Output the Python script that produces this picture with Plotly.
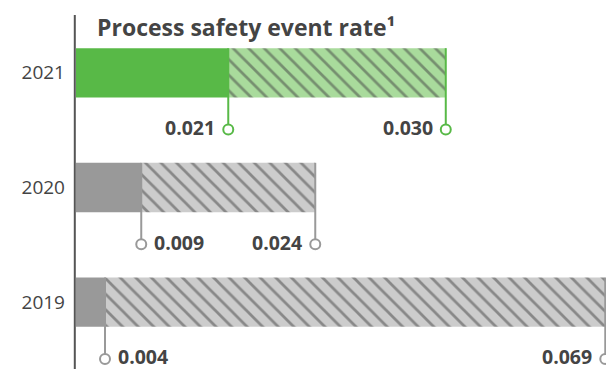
import plotly.graph_objects as go

years = ["2019", "2020", "2021"]
tier_solid = [0.004, 0.009, 0.021]
tier_hatch = [0.069, 0.024, 0.030]

# label placement per marker: side of the circle the number sits on
solid_side = ["right", "right", "left"]
hatch_side = ["left", "left", "left"]

GREEN = "#58b947"
GREEN_LIGHT = "#a9db9c"
GREY = "#999999"
GREY_LIGHT = "#cccccc"
TEXT = "#444444"
FONT = "Open Sans"

pos = list(range(len(years)))
solid_col = [GREY, GREY, GREEN]
light_col = [GREY_LIGHT, GREY_LIGHT, GREEN_LIGHT]
stripe_col = ["#8a8a8a", "#8a8a8a", "#4dab3c"]

bar_w = 0.43
drop = -0.495

W, H = 606, 369
LEFT = 76

fig = go.Figure()
fig.add_trace(go.Bar(
    y=pos, x=tier_solid, orientation="h", width=bar_w,
    marker=dict(color=solid_col, line=dict(width=0)),
    showlegend=False, hoverinfo="skip",
))
fig.add_trace(go.Bar(
    y=pos, x=tier_hatch, orientation="h", width=bar_w,
    base=tier_solid,
    marker=dict(
        color=light_col, line=dict(width=0),
        pattern=dict(shape="\\", fgcolor=stripe_col,
                     size=11, solidity=0.25, fillmode="overlay"),
    ),
    showlegend=False, hoverinfo="skip",
))

annotations = []
for i in pos:
    ends = [tier_solid[i], tier_solid[i] + tier_hatch[i]]
    labels = [tier_solid[i], tier_hatch[i]]
    sides = [solid_side[i], hatch_side[i]]
    for xe, lab, side in zip(ends, labels, sides):
        fig.add_trace(go.Scatter(
            x=[xe, xe], y=[i + bar_w / 2, i + drop], mode="lines",
            line=dict(color=solid_col[i], width=2),
            showlegend=False, hoverinfo="skip",
        ))
        fig.add_trace(go.Scatter(
            x=[xe], y=[i + drop], mode="markers",
            marker=dict(symbol="circle", size=10, color="white",
                        line=dict(color=solid_col[i], width=2)),
            showlegend=False, hoverinfo="skip",
        ))
        annotations.append(dict(
            x=xe, y=i + drop, xref="x", yref="y",
            text=f"<b>{lab:.3f}</b>", showarrow=False,
            xanchor="right" if side == "left" else "left",
            xshift=-11 if side == "left" else 11, yshift=2,
            font=dict(family=FONT, size=19.5, color=TEXT),
        ))

annotations.append(dict(
    x=22 / (W - LEFT), y=1 - 27 / H, xref="paper", yref="paper",
    text="<b>Process safety event rate¹</b>", showarrow=False,
    xanchor="left", yanchor="middle", xshift=-3,
    font=dict(family=FONT, size=23, color=TEXT),
))

fig.update_layout(
    width=W, height=H,
    margin=dict(l=LEFT, r=0, t=0, b=0, autoexpand=False),
    paper_bgcolor="white", plot_bgcolor="white",
    barmode="overlay",
    annotations=annotations,
    shapes=[dict(type="line", xref="paper", yref="paper",
                 x0=-1.2 / (W - LEFT), x1=-1.2 / (W - LEFT),
                 y0=0, y1=1 - 15 / H, line=dict(color="#555555", width=2))],
    xaxis=dict(range=[0, 0.0731], visible=False, fixedrange=True,
               automargin=False),
    yaxis=dict(range=[-0.583, 2.635], tickvals=pos, ticktext=years,
               showgrid=False, zeroline=False, showline=False,
               ticks="", ticklabelstandoff=10, automargin=False,
               fixedrange=True,
               tickfont=dict(family=FONT, size=19, color=TEXT)),
)

# drop the default 8px body margin so the figure fills the window exactly
fig.write_html(
    "out.html",
    config={"displayModeBar": False},
    post_script="document.body.style.margin='0';document.body.style.overflow='hidden';",
)
